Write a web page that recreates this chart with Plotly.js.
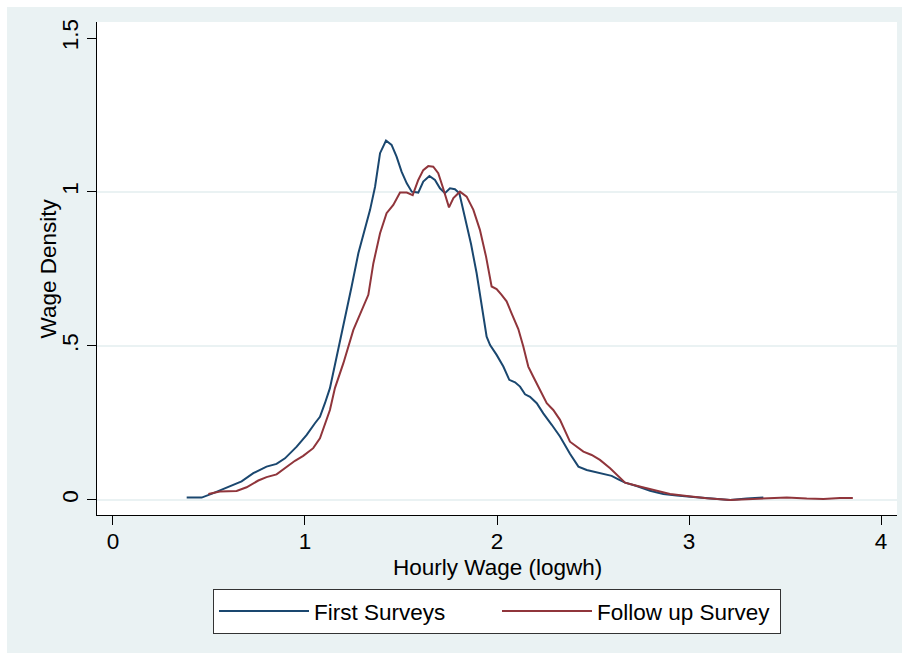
<!DOCTYPE html>
<html>
<head>
<meta charset="utf-8">
<script src="https://cdn.plot.ly/plotly-3.0.1.min.js"></script>
<style>html,body{margin:0;padding:0;background:#fff;}#chart{width:909px;height:659px;}</style>
</head>
<body>
<div id="chart"></div>
<script>
// First Surveys (kernel density of logwh)
var firstX = [0.384,0.462,0.523,0.609,0.670,0.731,0.800,0.852,0.896,0.957,1.009,1.052,1.078,1.104,1.130,1.165,1.200,1.243,1.278,1.3125,1.339,1.365,1.391,1.422,1.451,1.477,1.503,1.530,1.556,1.590,1.616,1.648,1.677,1.703,1.729,1.755,1.781,1.804,1.833,1.865,1.894,1.920,1.946,1.964,1.998,2.033,2.064,2.094,2.120,2.146,2.172,2.207,2.241,2.285,2.328,2.380,2.424,2.467,2.536,2.597,2.632,2.667,2.727,2.797,2.866,2.936,3.022,3.109,3.214,3.300,3.387];
var firstY = [0.0075,0.0075,0.022,0.043,0.060,0.087,0.108,0.117,0.135,0.173,0.211,0.249,0.270,0.314,0.363,0.465,0.563,0.693,0.801,0.877,0.942,1.017,1.126,1.167,1.153,1.115,1.066,1.028,1.001,0.998,1.034,1.052,1.039,1.012,0.996,1.012,1.009,0.996,0.920,0.830,0.736,0.628,0.530,0.503,0.471,0.433,0.390,0.382,0.368,0.343,0.335,0.314,0.281,0.244,0.206,0.150,0.108,0.097,0.087,0.078,0.067,0.056,0.045,0.030,0.0195,0.014,0.0097,0.0043,0.000,0.0043,0.0075];

// Follow up Survey
var followX = [0.497,0.557,0.644,0.696,0.757,0.800,0.852,0.896,0.948,0.991,1.043,1.078,1.130,1.156,1.200,1.252,1.295,1.330,1.356,1.391,1.425,1.460,1.495,1.530,1.561,1.590,1.616,1.642,1.668,1.694,1.717,1.750,1.773,1.807,1.842,1.877,1.911,1.943,1.972,1.998,2.024,2.050,2.076,2.111,2.137,2.163,2.189,2.224,2.259,2.293,2.328,2.380,2.415,2.450,2.493,2.536,2.589,2.623,2.667,2.727,2.814,2.901,2.988,3.092,3.214,3.300,3.405,3.509,3.613,3.700,3.786,3.853];
var followY = [0.0195,0.027,0.029,0.041,0.063,0.074,0.083,0.103,0.127,0.143,0.168,0.200,0.292,0.363,0.444,0.552,0.617,0.666,0.768,0.866,0.931,0.958,0.998,0.998,0.990,1.039,1.071,1.084,1.082,1.061,1.017,0.950,0.980,1.001,0.985,0.942,0.877,0.790,0.693,0.685,0.666,0.645,0.606,0.555,0.498,0.433,0.400,0.357,0.314,0.292,0.260,0.189,0.173,0.157,0.146,0.130,0.103,0.081,0.056,0.046,0.032,0.0195,0.013,0.0055,0.000,0.002,0.0065,0.0075,0.0043,0.003,0.0065,0.0065];

var seriesNames = ['First Surveys', 'Follow up Survey'];
var xTicks = [0, 1, 2, 3, 4];
var xTickText = ['0', '1', '2', '3', '4'];
var yTicks = [0, 0.5, 1, 1.5];
var yTickText = ['0', '.5', '1', '1.5'];
var yGridTicks = [0, 0.5, 1];
var xTitle = 'Hourly Wage (logwh)';
var yTitle = 'Wage Density';

var FONT = 'Liberation Sans, Arial, sans-serif';
var FS = 22.5;

var traces = [
  {x: firstX, y: firstY, name: seriesNames[0], type: 'scatter', mode: 'lines',
   line: {color: '#1a476f', width: 2}},
  {x: followX, y: followY, name: seriesNames[1], type: 'scatter', mode: 'lines',
   line: {color: '#90353b', width: 2}},
  {x: [null], y: [null], yaxis: 'y2', showlegend: false, hoverinfo: 'skip', mode: 'lines'}
];

var layout = {
  width: 909, height: 659,
  margin: {l: 97, r: 12, t: 22, b: 144},
  paper_bgcolor: '#ffffff',
  plot_bgcolor: '#ffffff',
  font: {family: FONT, size: FS, color: '#000'},
  showlegend: true,
  xaxis: {
    range: [-0.083, 4.083], tickvals: xTicks, ticktext: xTickText,
    showgrid: false, zeroline: false, showline: true, linecolor: '#000', linewidth: 1,
    ticks: 'outside', ticklen: 9, tickcolor: '#000', tickwidth: 1,
    ticklabelstandoff: -3,
    tickfont: {size: FS}
  },
  yaxis: {
    range: [-0.049, 1.552], tickvals: yTicks, ticktext: yTickText, tickangle: -90,
    showgrid: false, zeroline: false, showline: true, linecolor: '#000', linewidth: 1,
    ticks: 'outside', ticklen: 9, tickcolor: '#000', tickwidth: 1,
    tickfont: {size: FS}
  },
  yaxis2: {
    overlaying: 'y', range: [-0.049, 1.552], tickvals: yGridTicks,
    showgrid: true, gridcolor: '#eaf2f3', gridwidth: 1.5, zeroline: false,
    showticklabels: false, ticks: '', showline: false
  },
  annotations: [
    {text: yTitle, textangle: -90, xref: 'paper', yref: 'paper',
     x: -0.06125, y: 0.5, xanchor: 'center', yanchor: 'middle', showarrow: false,
     font: {size: FS, family: FONT, color: '#000'}},
    {text: xTitle, xref: 'paper', yref: 'paper',
     x: 0.5, y: -0.1075, xanchor: 'center', yanchor: 'middle', showarrow: false,
     font: {size: FS, family: FONT, color: '#000'}}
  ],
  legend: {
    orientation: 'h', x: 0.5, xanchor: 'center', y: -0.15, yanchor: 'top',
    bgcolor: '#ffffff', bordercolor: '#333', borderwidth: 1,
    font: {size: FS, family: FONT}, itemwidth: 90, entrywidth: 178, traceorder: 'normal'
  },
  shapes: [
    {type: 'rect', xref: 'paper', yref: 'paper', x0: -0.1125, x1: 1.00625, y0: -0.2799, y1: 1.0304,
     fillcolor: '#eaf2f3', line: {width: 0}, layer: 'below'},
    {type: 'rect', xref: 'paper', yref: 'paper', x0: 0, x1: 1, y0: 0, y1: 1,
     fillcolor: '#ffffff', line: {width: 0}, layer: 'below'}
  ]
};

Plotly.newPlot('chart', traces, layout, {displayModeBar: false, staticPlot: true});
</script>
</body>
</html>
